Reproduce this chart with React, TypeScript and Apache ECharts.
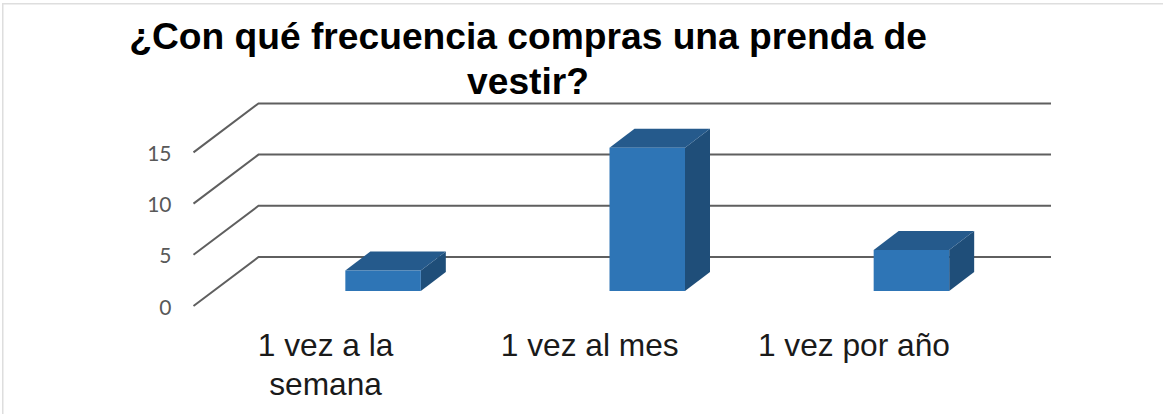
import React, { useEffect, useRef } from "react";
import * as echarts from "echarts";

const titleLines = ["¿Con qué frecuencia compras una prenda de", "vestir?"];
const categories = ["1 vez a la\nsemana", "1 vez al mes", "1 vez por año"];
const values = [2, 14, 4];
const gridValues = [0, 5, 10, 15];

const DEPTH_X = 65;
const DEPTH_Y = 49;
const BAR_W = 75.5;
const BAR_SHIFT_X = 57.5;
const BAR_SHIFT_Y = 15;
const BAR_DX = 25;
const BAR_DY = 19;

export default function App() {
  const ref = useRef<HTMLDivElement>(null);
  useEffect(() => {
    document.body.style.margin = "0";
    const chart = echarts.init(ref.current!, null, { renderer: "svg" });
    chart.setOption({
      animation: false,
      backgroundColor: "#ffffff",
      title: {
        text: titleLines.join("\n"),
        left: 523,
        top: 8,
        textAlign: "center",
        textStyle: {
          fontFamily: "Liberation Sans",
          fontWeight: "bold",
          fontSize: 37.2,
          lineHeight: 45,
          color: "#000000",
        },
      },
      grid: { left: 193.5, top: 152.4, width: 792.5, height: 153.6 },
      xAxis: {
        type: "category",
        data: categories,
        axisLine: { show: false },
        axisTick: { show: false },
        axisLabel: {
          margin: 19,
          fontFamily: "Liberation Sans",
          fontSize: 31.7,
          lineHeight: 39,
          color: "#1a1a1a",
          interval: 0,
        },
      },
      yAxis: {
        type: "value",
        min: 0,
        max: 15,
        interval: 5,
        axisLine: { show: false },
        axisTick: { show: false },
        splitLine: { show: false },
        axisLabel: {
          margin: 22,
          fontFamily: "Lato",
          fontSize: 21,
          color: "#595959",
        },
      },
      graphic: [
        { type: "rect", shape: { x: 2, y: 3, width: 1.5, height: 411 }, style: { fill: "#dedede" }, silent: true },
        { type: "rect", shape: { x: 2, y: 3, width: 1161, height: 1.5 }, style: { fill: "#dedede" }, silent: true },
      ],
      series: [
        {
          type: "custom",
          clip: false,
          z: 1,
          data: gridValues.map((v) => [0, v]),
          renderItem: (_: any, api: any) => {
            const step = api.size([1, 0])[0];
            const p = api.coord([0, api.value(1)]);
            const right = api.coord([2, api.value(1)])[0] + step / 2 + DEPTH_X;
            const x0 = p[0] - step / 2;
            return {
              type: "polyline",
              shape: {
                points: [
                  [x0, p[1]],
                  [x0 + DEPTH_X, p[1] - DEPTH_Y],
                  [right, p[1] - DEPTH_Y],
                ],
              },
              style: { fill: "none", stroke: "#5f5f5f", lineWidth: 2 },
            };
          },
        },
        {
          type: "custom",
          clip: false,
          z: 2,
          data: values.map((v, i) => [i, v]),
          renderItem: (_: any, api: any) => {
            const base = api.coord([api.value(0), 0]);
            const top = api.coord([api.value(0), api.value(1)]);
            const x0 = base[0] + BAR_SHIFT_X - BAR_W / 2;
            const x1 = x0 + BAR_W;
            const yb = base[1] - BAR_SHIFT_Y;
            const yt = top[1] - BAR_SHIFT_Y;
            return {
              type: "group",
              children: [
                {
                  type: "polygon",
                  shape: { points: [[x1, yt], [x1 + BAR_DX, yt - BAR_DY], [x1 + BAR_DX, yb - BAR_DY], [x1, yb]] },
                  style: { fill: "#1f4e79" },
                },
                {
                  type: "polygon",
                  shape: { points: [[x0, yt], [x0 + BAR_DX, yt - BAR_DY], [x1 + BAR_DX, yt - BAR_DY], [x1, yt]] },
                  style: { fill: "#255a8c" },
                },
                {
                  type: "rect",
                  shape: { x: x0, y: yt, width: BAR_W, height: yb - yt },
                  style: { fill: "#2e75b6" },
                },
              ],
            };
          },
        },
      ],
    });
    return () => chart.dispose();
  }, []);
  return <div ref={ref} style={{ position: "absolute", left: 0, top: 0, width: 1163, height: 414 }} />;
}
